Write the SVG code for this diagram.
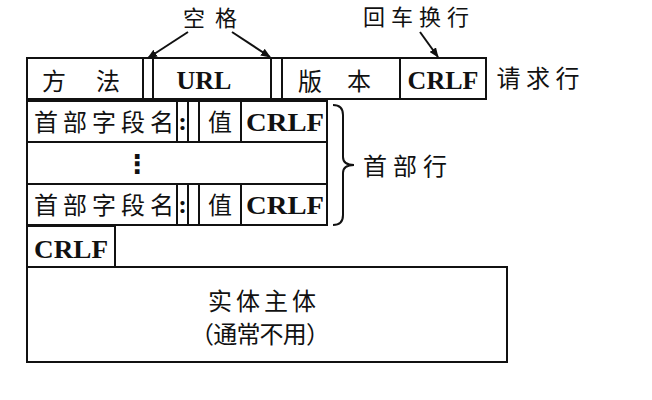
<svg xmlns="http://www.w3.org/2000/svg" width="652" height="400" viewBox="0 0 652 400">
<style>
.b{fill:#fff;stroke:#111;stroke-width:2}
.cn{font-family:"Noto Sans CJK SC","Noto Sans",sans-serif;fill:#111;font-size:24px}
.en{font-family:"Liberation Serif",serif;font-weight:bold;fill:#111;font-size:26px}
.ln{fill:none;stroke:#111;stroke-width:2}
</style>
<defs>
<marker id="ah" markerWidth="10" markerHeight="8" refX="9" refY="4" orient="auto" markerUnits="userSpaceOnUse">
<path d="M0,0 L10,4 L0,8 Z" fill="#111"/>
</marker>
</defs>
<rect width="652" height="400" fill="#fff"/>

<g id="labels">
<text class="cn" x="210" y="26" font-size="22" text-anchor="middle" textLength="54" lengthAdjust="spacing" style="font-size:22px">空格</text>
<text class="cn" x="416" y="25" text-anchor="middle" textLength="106" lengthAdjust="spacing" style="font-size:22px">回车换行</text>
<text class="cn" x="538" y="87" text-anchor="middle" textLength="83" lengthAdjust="spacing">请求行</text>
<text class="cn" x="405" y="175" text-anchor="middle" textLength="84" lengthAdjust="spacing">首部行</text>
</g>

<g id="request-line">
<rect class="b" x="27" y="58" width="116" height="41"/>
<rect class="b" x="143" y="58" width="10" height="41"/>
<rect class="b" x="153" y="58" width="118" height="41"/>
<rect class="b" x="271" y="58" width="11" height="41"/>
<rect class="b" x="282" y="58" width="118" height="41"/>
<rect class="b" x="400" y="58" width="86" height="41"/>
<text class="cn" x="54" y="90" text-anchor="middle">方</text>
<text class="cn" x="108" y="90" text-anchor="middle">法</text>
<text class="en" x="204" y="89" text-anchor="middle">URL</text>
<text class="cn" x="310" y="90" text-anchor="middle">版</text>
<text class="cn" x="359" y="90" text-anchor="middle">本</text>
<text class="en" x="443" y="89" text-anchor="middle">CRLF</text>
</g>

<g id="header-1">
<rect class="b" x="27" y="101" width="150" height="41"/>
<rect class="b" x="177" y="101" width="11" height="41"/>
<rect class="b" x="188" y="101" width="11" height="41"/>
<rect class="b" x="199" y="101" width="42" height="41"/>
<rect class="b" x="241" y="101" width="86" height="41"/>
<text class="cn" x="104" y="131" text-anchor="middle" textLength="140" lengthAdjust="spacing">首部字段名</text>
<text class="en" x="182.5" y="130" text-anchor="middle">:</text>
<text class="cn" x="220" y="131" text-anchor="middle">值</text>
<text class="en" x="285" y="131" text-anchor="middle" textLength="78" lengthAdjust="spacingAndGlyphs">CRLF</text>
</g>

<g id="header-dots">
<rect class="b" x="27" y="142" width="300" height="42"/>
<text x="137" y="173" text-anchor="middle" font-family="DejaVu Sans,sans-serif" font-weight="bold" font-size="26" fill="#111">⋮</text>
</g>

<g id="header-n">
<rect class="b" x="27" y="184" width="150" height="41"/>
<rect class="b" x="177" y="184" width="11" height="41"/>
<rect class="b" x="188" y="184" width="11" height="41"/>
<rect class="b" x="199" y="184" width="42" height="41"/>
<rect class="b" x="241" y="184" width="86" height="41"/>
<text class="cn" x="104" y="214" text-anchor="middle" textLength="140" lengthAdjust="spacing">首部字段名</text>
<text class="en" x="182.5" y="213" text-anchor="middle">:</text>
<text class="cn" x="220" y="214" text-anchor="middle">值</text>
<text class="en" x="285" y="214" text-anchor="middle" textLength="78" lengthAdjust="spacingAndGlyphs">CRLF</text>
</g>

<g id="blank-line">
<rect class="b" x="27" y="226" width="88" height="41"/>
<text class="en" x="71" y="258" text-anchor="middle" textLength="74" lengthAdjust="spacingAndGlyphs">CRLF</text>
</g>

<g id="body">
<rect class="b" x="27" y="267" width="480" height="95"/>
<text class="cn" x="262" y="310" text-anchor="middle" textLength="108" lengthAdjust="spacing">实体主体</text>
<text class="cn" x="260" y="343" text-anchor="middle" textLength="140" lengthAdjust="spacing">（通常不用）</text>
</g>

<g id="connectors">
<line class="ln" x1="188" y1="32" x2="148" y2="58" marker-end="url(#ah)"/>
<line class="ln" x1="232" y1="32" x2="270" y2="57" marker-end="url(#ah)"/>
<line class="ln" x1="420" y1="32" x2="438" y2="57" marker-end="url(#ah)"/>
<path class="ln" d="M333,105 Q343,105 343,115 L343,157 Q343,165 354,165 Q343,165 343,173 L343,215 Q343,225 333,225"/>
</g>
</svg>
